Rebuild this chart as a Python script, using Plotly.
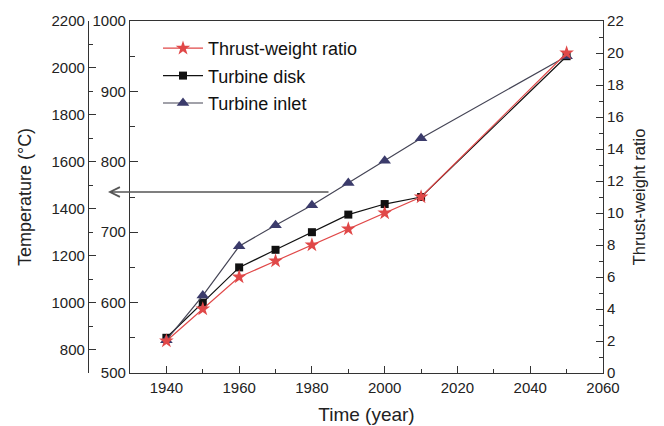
import plotly.graph_objects as go

years = [1940, 1950, 1960, 1970, 1980, 1990, 2000, 2010, 2050]
thrust_weight = [2, 4, 6, 7, 8, 9, 10, 11, 20]
turbine_disk = [550, 600, 650, 675, 700, 725, 740, 750, 950]
turbine_inlet = [840, 1030, 1240, 1330, 1415, 1510, 1605, 1700, 2050]

x_ticks = [1940, 1960, 1980, 2000, 2020, 2040, 2060]
inner_ticks = [500, 600, 700, 800, 900, 1000]
outer_ticks = [800, 1000, 1200, 1400, 1600, 1800, 2000, 2200]
right_ticks = list(range(0, 23, 2))

# the page body adds an 8 px offset; figure coordinates are page - 8
OFF = 8
W, H = 656, 418
PL, PR, PT, PB = 130 - OFF, 603 - OFF, 21 - OFF, 373 - OFF  # plot box in figure px
L, T = 32, 13
R, B = W - PR, H - PB
paper_w = W - L - R
paper_h = H - T - B


def px_to_paper_x(page_px):
    return (page_px - OFF - L) / paper_w


def px_to_paper_y(page_py):
    return (H - B - (page_py - OFF)) / paper_h


FONT = "Liberation Sans, Arial, sans-serif"
AX = "#333333"

fig = go.Figure()
fig.add_trace(go.Scatter(
    x=years, y=thrust_weight, name="Thrust-weight ratio", yaxis="y3",
    mode="lines+markers", legendgroup="a",
    line=dict(color="#e04848", width=1.2),
    marker=dict(symbol="star", size=11, color="#e04848"),
))
fig.add_trace(go.Scatter(
    x=years, y=turbine_disk, name="Turbine disk", yaxis="y",
    mode="lines+markers", legendgroup="b",
    line=dict(color="#111111", width=1.2),
    marker=dict(symbol="square", size=8, color="#111111"),
))
fig.add_trace(go.Scatter(
    x=years, y=turbine_inlet, name="Turbine inlet", yaxis="y2",
    mode="lines+markers", legendgroup="c",
    line=dict(color="#444455", width=1.2),
    marker=dict(symbol="triangle-up", size=11, color="#3b3b6b"),
))

dom0 = px_to_paper_x(130)

fig.update_layout(
    width=W, height=H,
    margin=dict(l=L, r=R, t=T, b=B, autoexpand=False),
    paper_bgcolor="white", plot_bgcolor="white",
    font=dict(family=FONT, size=15, color="#222222"),
    showlegend=True,
    legend=dict(
        x=px_to_paper_x(158), y=px_to_paper_y(30), xanchor="left", yanchor="top",
        font=dict(size=18, color="#111111"), tracegroupgap=1, itemwidth=40,
        bgcolor="rgba(0,0,0,0)",
    ),
    xaxis=dict(
        domain=[dom0, 1], range=[1930, 2060], tickvals=x_ticks, automargin=False,
        ticks="inside", ticklen=7, tickcolor=AX, tickwidth=1,
        minor=dict(ticks="inside", dtick=10, tick0=1930, ticklen=4, tickcolor=AX),
        showline=True, linecolor=AX, linewidth=1.2, mirror=True,
        showgrid=False, zeroline=False, ticklabelstandoff=1,
        title=dict(text="Time (year)", font=dict(size=19), standoff=12),
        tickfont=dict(size=15),
    ),
    yaxis=dict(
        range=[500, 1000], tickvals=inner_ticks, anchor="x", automargin=False,
        ticks="inside", ticklen=8, tickcolor=AX,
        minor=dict(ticks="inside", dtick=50, tick0=500, ticklen=5, tickcolor=AX),
        showline=True, linecolor=AX, linewidth=1.2,
        showgrid=False, zeroline=False, tickfont=dict(size=15),
    ),
    yaxis2=dict(
        range=[700, 2200], tickvals=outer_ticks, overlaying="y", automargin=False,
        anchor="free", position=px_to_paper_x(88), side="left",
        ticks="inside", ticklen=7, tickcolor=AX,
        minor=dict(ticks="inside", dtick=100, tick0=700, ticklen=4, tickcolor=AX),
        showline=True, linecolor=AX, linewidth=1.2,
        showgrid=False, zeroline=False, tickfont=dict(size=15),
        title=dict(text="Temperature (°C)", font=dict(size=18), standoff=14),
    ),
    yaxis3=dict(
        range=[0, 22], tickvals=right_ticks, overlaying="y", anchor="x",
        side="right", automargin=False,
        ticks="inside", ticklen=7, tickcolor=AX,
        minor=dict(ticks="inside", dtick=1, ticklen=4, tickcolor=AX),
        showline=True, linecolor=AX, linewidth=1.2,
        showgrid=False, zeroline=False, tickfont=dict(size=15),
        title=dict(text="Thrust-weight ratio", font=dict(size=16.5), standoff=10),
    ),
)

fig.add_annotation(
    xref="paper", yref="paper",
    x=px_to_paper_x(108), y=px_to_paper_y(192),
    ax=222, ay=0, axref="pixel", ayref="pixel",
    text="", showarrow=True, arrowhead=5, arrowsize=1.2,
    arrowwidth=1.6, arrowcolor="#555555",
)

fig.write_html("out.html")
